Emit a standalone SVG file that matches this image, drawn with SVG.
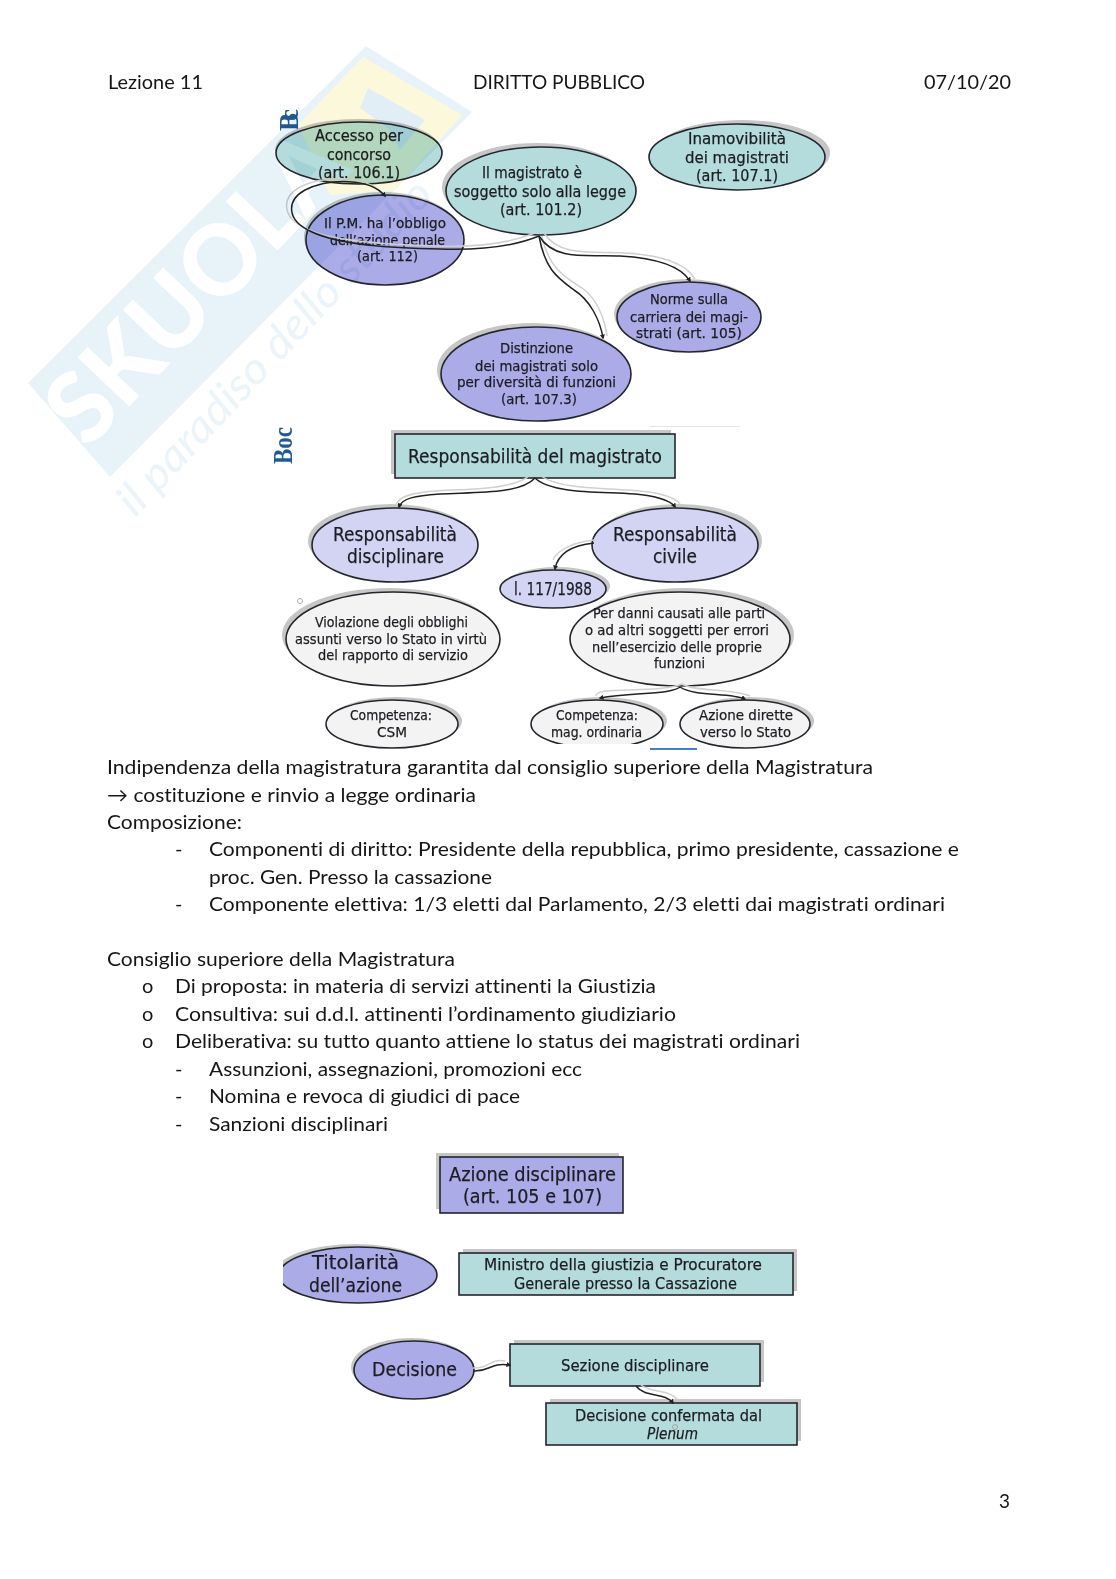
<svg xmlns="http://www.w3.org/2000/svg" width="1116" height="1579" viewBox="0 0 1116 1579">
<style>
text{white-space:pre;font-variant-ligatures:none}
.b{font-family:"Lato","Open Sans",sans-serif;font-size:20px;fill:#161616}
.d{font-family:"DejaVu Sans","Liberation Sans",sans-serif;fill:#1c1c22;stroke:#1c1c22;stroke-width:.25}
.s14{font-size:14.5px}.s16{font-size:16px}.s18{font-size:18px}.s20{font-size:20px}
.sh{fill:#c6c6c6}
.o{stroke:#23262c;stroke-width:1.6}
.te{fill:#b4dcdc}.pu{fill:#ababe8}.la{fill:#d3d3f3}.gr{fill:#f3f3f3}
.c{fill:none;stroke:#222;stroke-width:1.5;marker-end:url(#ah)}
.g{fill:none;stroke:#d0d0d0;stroke-width:1.5}
.logo{font-family:"Liberation Serif",serif;font-weight:bold;font-size:27px;fill:#1f5a94}
#watermark{mix-blend-mode:multiply}
</style>
<defs>
<marker id="ah" markerWidth="5" markerHeight="5" refX="3.5" refY="2.5" orient="auto" markerUnits="userSpaceOnUse"><path d="M0,0L5,2.5L0,5z" fill="#222"/></marker>
<clipPath id="clipT"><rect x="283" y="1230" width="170" height="80"/></clipPath>
<clipPath id="clipBot"><rect x="300" y="690" width="530" height="54"/></clipPath>
</defs>
<rect width="1116" height="1579" fill="#fff"/>

<g id="page-text">
<text class="b" x="108" y="89" textLength="95" lengthAdjust="spacingAndGlyphs">Lezione 11</text>
<text class="b" x="473" y="89" textLength="172" lengthAdjust="spacingAndGlyphs">DIRITTO PUBBLICO</text>
<text class="b" x="924" y="89" textLength="87" lengthAdjust="spacingAndGlyphs">07/10/20</text>
<text class="b" x="107" y="774" textLength="766" lengthAdjust="spacingAndGlyphs">Indipendenza della magistratura garantita dal consiglio superiore della Magistratura</text>
<text class="b" x="107" y="802" textLength="369" lengthAdjust="spacingAndGlyphs">→ costituzione e rinvio a legge ordinaria</text>
<text class="b" x="107" y="829" textLength="135" lengthAdjust="spacingAndGlyphs">Composizione:</text>
<text class="b" x="175" y="856">-</text>
<text class="b" x="209" y="856" textLength="750" lengthAdjust="spacingAndGlyphs">Componenti di diritto: Presidente della repubblica, primo presidente, cassazione e</text>
<text class="b" x="209" y="884" textLength="283" lengthAdjust="spacingAndGlyphs">proc. Gen. Presso la cassazione</text>
<text class="b" x="175" y="911">-</text>
<text class="b" x="209" y="911" textLength="736" lengthAdjust="spacingAndGlyphs">Componente elettiva: 1/3 eletti dal Parlamento, 2/3 eletti dai magistrati ordinari</text>
<text class="b" x="107" y="966" textLength="348" lengthAdjust="spacingAndGlyphs">Consiglio superiore della Magistratura</text>
<text class="b" x="142" y="993">o</text>
<text class="b" x="175" y="993" textLength="481" lengthAdjust="spacingAndGlyphs">Di proposta: in materia di servizi attinenti la Giustizia</text>
<text class="b" x="142" y="1021">o</text>
<text class="b" x="175" y="1021" textLength="501" lengthAdjust="spacingAndGlyphs">Consultiva: sui d.d.l. attinenti l’ordinamento giudiziario</text>
<text class="b" x="142" y="1048">o</text>
<text class="b" x="175" y="1048" textLength="625" lengthAdjust="spacingAndGlyphs">Deliberativa: su tutto quanto attiene lo status dei magistrati ordinari</text>
<text class="b" x="175" y="1076">-</text>
<text class="b" x="209" y="1076" textLength="373" lengthAdjust="spacingAndGlyphs">Assunzioni, assegnazioni, promozioni ecc</text>
<text class="b" x="175" y="1103">-</text>
<text class="b" x="209" y="1103" textLength="311" lengthAdjust="spacingAndGlyphs">Nomina e revoca di giudici di pace</text>
<text class="b" x="175" y="1131">-</text>
<text class="b" x="209" y="1131" textLength="179" lengthAdjust="spacingAndGlyphs">Sanzioni disciplinari</text>
<text class="b" x="999" y="1508" textLength="11" lengthAdjust="spacingAndGlyphs">3</text>
</g>

<g id="logo-fragments">
<text class="logo" transform="translate(298,131) rotate(-90)" textLength="22">Bc</text>
<text class="logo" transform="translate(292,464) rotate(-90)" textLength="37" lengthAdjust="spacingAndGlyphs">Boc</text>
<circle cx="300" cy="601" r="2.5" fill="#fff" stroke="#aaa"/>
<rect x="650" y="748" width="47" height="2" fill="#3f7fcb"/>
<rect x="650" y="426" width="90" height="1" fill="#e4e8ee"/>
</g>

<g id="n-accesso">
<ellipse class="sh" cx="358" cy="150" rx="83" ry="31"/>
<ellipse class="te o" cx="359" cy="153" rx="83" ry="31"/>
<text class="d s16" x="315" y="141" textLength="88" lengthAdjust="spacingAndGlyphs">Accesso per</text>
<text class="d s16" x="327" y="160" textLength="64" lengthAdjust="spacingAndGlyphs">concorso</text>
<text class="d s16" x="318" y="178" textLength="82" lengthAdjust="spacingAndGlyphs">(art. 106.1)</text>
</g>
<g id="n-magistrato">
<ellipse class="sh" cx="537" cy="187" rx="95" ry="44"/>
<ellipse class="te o" cx="541" cy="191" rx="95" ry="44"/>
<text class="d s16" x="482" y="178" textLength="100" lengthAdjust="spacingAndGlyphs">Il magistrato è</text>
<text class="d s16" x="454" y="197" textLength="172" lengthAdjust="spacingAndGlyphs">soggetto solo alla legge</text>
<text class="d s16" x="500" y="215" textLength="82" lengthAdjust="spacingAndGlyphs">(art. 101.2)</text>
</g>
<g id="n-inamovibilita">
<ellipse class="sh" cx="742" cy="153" rx="88" ry="33"/>
<ellipse class="te o" cx="737" cy="157" rx="88" ry="33"/>
<text class="d s16" x="688" y="144" textLength="98" lengthAdjust="spacingAndGlyphs">Inamovibilità</text>
<text class="d s16" x="685" y="163" textLength="104" lengthAdjust="spacingAndGlyphs">dei magistrati</text>
<text class="d s16" x="696" y="181" textLength="82" lengthAdjust="spacingAndGlyphs">(art. 107.1)</text>
</g>
<g id="n-pm">
<ellipse class="sh" cx="383" cy="237" rx="79" ry="45"/>
<ellipse class="pu o" cx="385" cy="240" rx="79" ry="45"/>
<text class="d s14" x="324" y="228" textLength="122" lengthAdjust="spacingAndGlyphs">Il P.M. ha l’obbligo</text>
<text class="d s14" x="330" y="245" textLength="115" lengthAdjust="spacingAndGlyphs">dell’azione penale</text>
<text class="d s14" x="357" y="261" textLength="61" lengthAdjust="spacingAndGlyphs">(art. 112)</text>
</g>
<g id="n-norme">
<ellipse class="sh" cx="686" cy="314" rx="72" ry="35"/>
<ellipse class="pu o" cx="689" cy="317" rx="72" ry="35"/>
<text class="d s14" x="650" y="304" textLength="78" lengthAdjust="spacingAndGlyphs">Norme sulla</text>
<text class="d s14" x="630" y="322" textLength="118" lengthAdjust="spacingAndGlyphs">carriera dei magi-</text>
<text class="d s14" x="636" y="338" textLength="106" lengthAdjust="spacingAndGlyphs">strati (art. 105)</text>
</g>
<g id="n-distinzione">
<ellipse class="sh" cx="532" cy="370" rx="95" ry="47"/>
<ellipse class="pu o" cx="536" cy="374" rx="95" ry="47"/>
<text class="d s14" x="500" y="353" textLength="73" lengthAdjust="spacingAndGlyphs">Distinzione</text>
<text class="d s14" x="475" y="371" textLength="123" lengthAdjust="spacingAndGlyphs">dei magistrati solo</text>
<text class="d s14" x="457" y="387" textLength="159" lengthAdjust="spacingAndGlyphs">per diversità di funzioni</text>
<text class="d s14" x="501" y="404" textLength="76" lengthAdjust="spacingAndGlyphs">(art. 107.3)</text>
</g>

<g id="n-responsabilita">
<rect class="sh" x="391" y="430" width="280" height="44"/>
<rect class="te o" x="395" y="434" width="280" height="44"/>
<text class="d s20" x="408" y="463" textLength="254" lengthAdjust="spacingAndGlyphs">Responsabilità del magistrato</text>
</g>
<g id="n-disciplinare">
<ellipse class="sh" cx="391" cy="541" rx="83" ry="37"/>
<ellipse class="la o" cx="395" cy="545" rx="83" ry="37"/>
<text class="d s20" x="333" y="541" textLength="124" lengthAdjust="spacingAndGlyphs">Responsabilità</text>
<text class="d s20" x="347" y="563" textLength="97" lengthAdjust="spacingAndGlyphs">disciplinare</text>
</g>
<g id="n-civile">
<ellipse class="sh" cx="679" cy="541" rx="83" ry="37"/>
<ellipse class="la o" cx="675" cy="545" rx="83" ry="37"/>
<text class="d s20" x="613" y="541" textLength="124" lengthAdjust="spacingAndGlyphs">Responsabilità</text>
<text class="d s20" x="653" y="563" textLength="44" lengthAdjust="spacingAndGlyphs">civile</text>
</g>
<g id="n-legge117">
<ellipse class="sh" cx="557" cy="586" rx="53" ry="19"/>
<ellipse class="la o" cx="553" cy="589" rx="53" ry="19"/>
<text class="d s18" x="514" y="595" textLength="78" lengthAdjust="spacingAndGlyphs">l. 117/1988</text>
</g>
<g id="n-violazione">
<ellipse class="sh" cx="389" cy="635" rx="107" ry="47"/>
<ellipse class="gr o" cx="393" cy="639" rx="107" ry="47"/>
<text class="d s14" x="315" y="627" textLength="153" lengthAdjust="spacingAndGlyphs">Violazione degli obblighi</text>
<text class="d s14" x="295" y="644" textLength="192" lengthAdjust="spacingAndGlyphs">assunti verso lo Stato in virtù</text>
<text class="d s14" x="318" y="660" textLength="150" lengthAdjust="spacingAndGlyphs">del rapporto di servizio</text>
</g>
<g id="n-danni">
<ellipse class="sh" cx="684" cy="635" rx="110" ry="47"/>
<ellipse class="gr o" cx="680" cy="639" rx="110" ry="47"/>
<text class="d s14" x="593" y="618" textLength="172" lengthAdjust="spacingAndGlyphs">Per danni causati alle parti</text>
<text class="d s14" x="585" y="635" textLength="184" lengthAdjust="spacingAndGlyphs">o ad altri soggetti per errori</text>
<text class="d s14" x="592" y="652" textLength="170" lengthAdjust="spacingAndGlyphs">nell’esercizio delle proprie</text>
<text class="d s14" x="654" y="668" textLength="51" lengthAdjust="spacingAndGlyphs">funzioni</text>
</g>
<g id="n-csm">
<ellipse class="sh" cx="396" cy="721" rx="66" ry="24"/>
<ellipse class="gr o" cx="392" cy="724" rx="66" ry="24"/>
<text class="d s14" x="350" y="720" textLength="82" lengthAdjust="spacingAndGlyphs">Competenza:</text>
<text class="d s14" x="377" y="737" textLength="30" lengthAdjust="spacingAndGlyphs">CSM</text>
</g>
<g id="n-ordinaria">
<g clip-path="url(#clipBot)">
<ellipse class="sh" cx="601" cy="721" rx="66" ry="24"/>
<ellipse class="gr o" cx="597" cy="724" rx="66" ry="24"/>
</g>
<text class="d s14" x="556" y="720" textLength="82" lengthAdjust="spacingAndGlyphs">Competenza:</text>
<text class="d s14" x="551" y="737" textLength="91" lengthAdjust="spacingAndGlyphs">mag. ordinaria</text>
</g>
<g id="n-azione">
<ellipse class="sh" cx="749" cy="721" rx="65" ry="24"/>
<ellipse class="gr o" cx="745" cy="724" rx="65" ry="24"/>
<text class="d s14" x="699" y="720" textLength="94" lengthAdjust="spacingAndGlyphs">Azione dirette</text>
<text class="d s14" x="700" y="737" textLength="91" lengthAdjust="spacingAndGlyphs">verso lo Stato</text>
</g>

<g id="n-azione-disciplinare">
<rect class="sh" x="436" y="1153" width="183" height="56"/>
<rect class="pu o" x="440" y="1157" width="183" height="56"/>
<text class="d s20" x="449" y="1181" textLength="167" lengthAdjust="spacingAndGlyphs">Azione disciplinare</text>
<text class="d s20" x="463" y="1203" textLength="139" lengthAdjust="spacingAndGlyphs">(art. 105 e 107)</text>
</g>
<g id="n-titolarita">
<g clip-path="url(#clipT)">
<ellipse class="sh" cx="355" cy="1272" rx="79" ry="28"/>
<ellipse class="pu o" cx="358" cy="1275" rx="79" ry="28"/>
</g>
<text class="d s20" x="312" y="1269" textLength="87" lengthAdjust="spacingAndGlyphs">Titolarità</text>
<text class="d s20" x="309" y="1292" textLength="93" lengthAdjust="spacingAndGlyphs">dell’azione</text>
</g>
<g id="n-ministro">
<rect class="sh" x="463" y="1249" width="334" height="42"/>
<rect class="te o" x="459" y="1253" width="334" height="42"/>
<text class="d s16" x="484" y="1270" textLength="278" lengthAdjust="spacingAndGlyphs">Ministro della giustizia e Procuratore</text>
<text class="d s16" x="514" y="1289" textLength="223" lengthAdjust="spacingAndGlyphs">Generale presso la Cassazione</text>
</g>
<g id="n-decisione">
<ellipse class="sh" cx="411" cy="1367" rx="60" ry="29"/>
<ellipse class="pu o" cx="414" cy="1370" rx="60" ry="29"/>
<text class="d s20" x="372" y="1376" textLength="85" lengthAdjust="spacingAndGlyphs">Decisione</text>
</g>
<g id="n-sezione">
<rect class="sh" x="514" y="1340" width="250" height="42"/>
<rect class="te o" x="510" y="1344" width="250" height="42"/>
<text class="d s16" x="561" y="1371" textLength="148" lengthAdjust="spacingAndGlyphs">Sezione disciplinare</text>
</g>
<g id="n-confermata">
<rect class="sh" x="550" y="1399" width="251" height="42"/>
<rect class="te o" x="546" y="1403" width="251" height="42"/>
<text class="d s16" x="575" y="1421" textLength="187" lengthAdjust="spacingAndGlyphs">Decisione confermata dal</text>
<text class="d s16" x="647" y="1439" textLength="51" lengthAdjust="spacingAndGlyphs" font-style="italic">Plenum</text>
<circle cx="675" cy="1427" r="2.5" fill="none" stroke="#999" stroke-width=".8"/>
</g>

<g id="connectors">
<path class="g" d="M535,233C505,245 470,247 440,246C390,245 335,242 307,229C280,217 282,197 300,187C325,175 365,176 381,192"/>
<path class="g" d="M542,236C548,268 566,278 582,288C597,298 605,320 607,336"/>
<path class="g" d="M544,233C560,258 595,251 625,253C660,255 685,262 695,279"/>
<path class="c" d="M539,236C510,248 470,250 440,249C390,248 340,245 312,232C285,220 287,200 305,190C330,178 370,178 385,196"/>
<path class="c" d="M539,236C545,270 558,278 574,290C590,300 600,320 603,338"/>
<path class="c" d="M539,236C555,262 590,254 620,256C655,258 680,265 690,281"/>
<path class="g" d="M530,475C515,490 465,489 435,491C410,493 398,497 396,505"/>
<path class="g" d="M540,475C560,492 625,487 655,493C670,496 677,500 680,504"/>
<path class="c" d="M535,478C520,495 470,492 440,494C415,496 402,498 399,507"/>
<path class="c" d="M535,478C555,497 620,490 650,496C665,499 672,502 675,507"/>
<path class="g" d="M594,540C575,542 558,549 553,560"/>
<path class="c" d="M594,543C575,545 558,552 555,569"/>
<path class="g" d="M682,684C665,691 630,689 605,691C598,692 596,694 596,696"/>
<path class="g" d="M682,684C695,692 730,688 750,696"/>
<path class="c" d="M680,687C670,695 630,692 600,698"/>
<path class="c" d="M680,687C695,697 730,692 745,699"/>
<path class="g" d="M473,1368C490,1369 490,1358 505,1361"/>
<path class="c" d="M473,1371C490,1372 490,1362 510,1365"/>
<path class="g" d="M640,1384C650,1394 668,1388 678,1400"/>
<path class="c" d="M636,1386C645,1398 665,1392 673,1403"/>
</g>

<g id="watermark">
<polygon points="28,383 366,46 472,112 110,477" fill="#e8f3f9"/>
<polygon points="363,57 462,115 395,190 330,195 298,125" fill="#fcf8dc"/>
<polygon points="368,88 425,120 400,150 388,128 360,108" fill="#e2eef5"/>
<text transform="translate(88,450) rotate(-46.5)" font-family="Lato,sans-serif" font-weight="900" font-size="98" fill="#fff" textLength="385" lengthAdjust="spacingAndGlyphs">SKUOLA</text>
<text transform="translate(135,518) rotate(-47)" font-family="Lato,sans-serif" font-style="italic" font-size="44" fill="#eaf4f9" textLength="440" lengthAdjust="spacingAndGlyphs">il paradiso dello studio</text>
</g>
</svg>
